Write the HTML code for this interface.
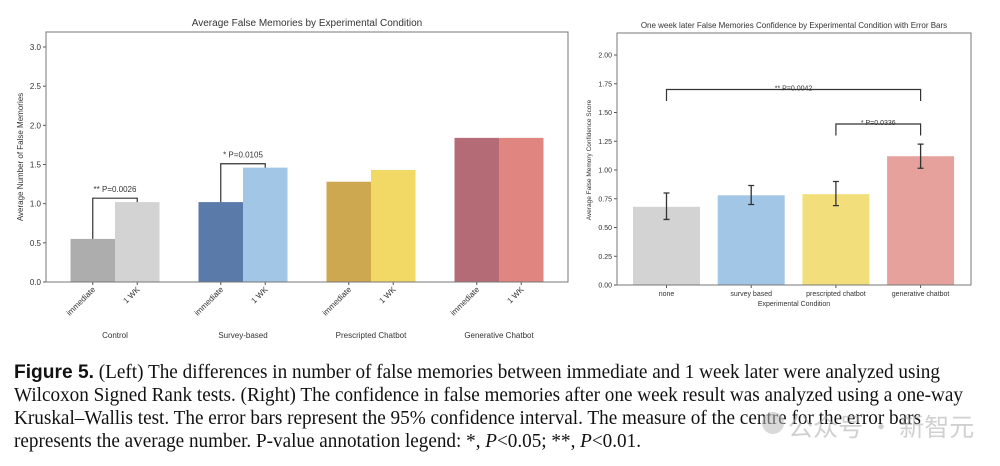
<!DOCTYPE html>
<html><head><meta charset="utf-8"><style>
body{margin:0;background:#fff;width:1000px;height:466px;overflow:hidden}
svg{display:block}
text{font-family:"Liberation Sans",sans-serif;fill:#333}
.cap{font-family:"Liberation Serif",serif;font-size:19.5px;fill:#111}
</style></head><body>
<svg id="s" width="1000" height="466" viewBox="0 0 1000 466" xmlns="http://www.w3.org/2000/svg">
<rect x="0" y="0" width="1000" height="466" fill="#fff"/>
<g id="left"></g>
<g id="right"></g>
<g>
<text x="14" y="378" class="cap" textLength="926" lengthAdjust="spacingAndGlyphs"><tspan style="font-family:'Liberation Sans',sans-serif;font-weight:bold">Figure 5.</tspan> (Left) The differences in number of false memories between immediate and 1 week later were analyzed using</text>
<text x="14" y="401" class="cap" textLength="949" lengthAdjust="spacingAndGlyphs">Wilcoxon Signed Rank tests. (Right) The confidence in false memories after one week result was analyzed using a one-way</text>
<text x="14" y="424" class="cap" textLength="907" lengthAdjust="spacingAndGlyphs">Kruskal–Wallis test. The error bars represent the 95% confidence interval. The measure of the centre for the error bars</text>
<text x="14" y="447" class="cap" textLength="627" lengthAdjust="spacingAndGlyphs">represents the average number. P-value annotation legend: *, <tspan font-style="italic">P</tspan>&lt;0.05; **, <tspan font-style="italic">P</tspan>&lt;0.01.</text>
</g>
<g opacity="0.55">
<circle cx="773" cy="423" r="11" fill="#bbb"/>
<text x="788" y="436" font-size="25" style="font-family:'Noto Sans CJK SC',sans-serif;fill:#aaa">公众号 · 新智元</text>
</g>
</svg>
<script>
// Left chart data
const groups = ["Control","Survey-based","Prescripted Chatbot","Generative Chatbot"];
const immediateVals = [0.55,1.02,1.28,1.84];
const weekVals = [1.02,1.46,1.43,1.84];
const immColors = ["#adadad","#5a7aaa","#cda851","#b56b76"];
const wkColors = ["#d3d3d3","#a2c6e6","#f2d865","#e0857f"];
const leftTicks = [0,0.5,1.0,1.5,2.0,2.5,3.0];
// Right chart data
const conds = ["none","survey based","prescripted chatbot","generative chatbot"];
const confVals = [0.68,0.78,0.79,1.12];
const confLo = [0.57,0.70,0.69,1.015];
const confHi = [0.80,0.865,0.90,1.225];
const confColors = ["#d3d3d3","#a2c6e6","#f2df7c","#e6a19c"];
const rightTicks = [0,0.25,0.5,0.75,1.0,1.25,1.5,1.75,2.0];

const NS="http://www.w3.org/2000/svg";
function mk(parent,tag,attrs,txt){const e=document.createElementNS(NS,tag);for(const k in attrs)e.setAttribute(k,attrs[k]);if(txt!=null)e.textContent=txt;parent.appendChild(e);return e;}

// LEFT
const L=document.getElementById('left');
const lx0=46,lx1=568,ly0=32,ly1=282;
const ly=v=>ly1-v*(ly1-47)/3.0;
const groupX=i=>115+i*128;
const bw=44.5;
let t=mk(L,'text',{x:307,y:26,'font-size':10,'text-anchor':'middle'},'Average False Memories by Experimental Condition');


t=mk(L,'text',{transform:'translate(23,157) rotate(-90)','font-size':8,'text-anchor':'middle'},'Average Number of False Memories');


leftTicks.forEach(v=>{
  mk(L,'line',{x1:lx0-3,x2:lx0,y1:ly(v),y2:ly(v),stroke:'#555'});
  const tt=mk(L,'text',{x:lx0-5,y:ly(v)+3,'font-size':8,'text-anchor':'end'},v.toFixed(1));
  
  
});
groups.forEach((g,i)=>{
  const c=groupX(i);
  let r=mk(L,'rect',{x:c-bw,y:ly(immediateVals[i]),width:bw,height:ly1-ly(immediateVals[i]),fill:immColors[i]});
  
  
  r=mk(L,'rect',{x:c,y:ly(weekVals[i]),width:bw,height:ly1-ly(weekVals[i]),fill:wkColors[i]});
  
  
  [[c-bw/2,'immediate'],[c+bw/2,'1 WK']].forEach(([x,s])=>{
    mk(L,'line',{x1:x,x2:x,y1:ly1,y2:ly1+3,stroke:'#555'});
    const tl=mk(L,'text',{transform:`translate(${x+3},${ly1+8}) rotate(-45)`,'font-size':8,'text-anchor':'end'},s);
    
    
  });
  const gl=mk(L,'text',{x:c,y:338,'font-size':8,'text-anchor':'middle'},g);
  
  
});
mk(L,'rect',{x:lx0,y:ly0,width:lx1-lx0,height:ly1-ly0,fill:'none',stroke:'#777','stroke-width':1});
const lbr=[[0,1.07,'** P=0.0026'],[1,1.51,'* P=0.0105']];
lbr.forEach(([i,h,s])=>{
  const c=groupX(i),a=c-bw/2,b=c+bw/2;
  const p=mk(L,'path',{d:`M${a},${ly(immediateVals[i])} V${ly(h)} H${b} V${ly(weekVals[i])}`,fill:'none',stroke:'#333','stroke-width':1.2});
  
  
  mk(L,'text',{x:c,y:ly(h)-6,'font-size':8,'text-anchor':'middle'},s);
});

// RIGHT
const R=document.getElementById('right');
const rx0=617,rx1=971,ry0=33,ry1=285;
const ry=v=>ry1-v*(ry1-55)/2.0;
const rc=i=>666.5+i*84.7, rbw=67;
t=mk(R,'text',{x:794,y:28,'font-size':8,'text-anchor':'middle'},'One week later False Memories Confidence by Experimental Condition with Error Bars');


t=mk(R,'text',{transform:'translate(591,160) rotate(-90)','font-size':6.5,'text-anchor':'middle'},'Average False Memory Confidence Score');


t=mk(R,'text',{x:794,y:306,'font-size':7,'text-anchor':'middle'},'Experimental Condition');


rightTicks.forEach(v=>{
  mk(R,'line',{x1:rx0-3,x2:rx0,y1:ry(v),y2:ry(v),stroke:'#555'});
  const tt=mk(R,'text',{x:rx0-5,y:ry(v)+2.5,'font-size':7,'text-anchor':'end'},v.toFixed(2));
  
  
});
conds.forEach((cn,i)=>{
  const c=rc(i);
  const r=mk(R,'rect',{x:c-rbw/2,y:ry(confVals[i]),width:rbw,height:ry1-ry(confVals[i]),fill:confColors[i]});
  
  
  const e=mk(R,'path',{d:`M${c},${ry(confLo[i])} V${ry(confHi[i])} M${c-3},${ry(confLo[i])} H${c+3} M${c-3},${ry(confHi[i])} H${c+3}`,stroke:'#333','stroke-width':1.3,fill:'none'});
  
  
  mk(R,'line',{x1:c,x2:c,y1:ry1,y2:ry1+3,stroke:'#555'});
  const tl=mk(R,'text',{x:c,y:296,'font-size':7,'text-anchor':'middle'},cn);
  
  
});
mk(R,'rect',{x:rx0,y:ry0,width:rx1-rx0,height:ry1-ry0,fill:'none',stroke:'#777','stroke-width':1});
const rbr=[[0,3,1.70,1.60,'**  P=0.0042'],[2,3,1.40,1.30,'* P=0.0336']];
rbr.forEach(([a,b,h,d,s])=>{
  const p=mk(R,'path',{d:`M${rc(a)},${ry(d)} V${ry(h)} H${rc(b)} V${ry(d)}`,fill:'none',stroke:'#333','stroke-width':1.2});
  
  
  mk(R,'text',{x:(rc(a)+rc(b))/2,y:ry(h)+1,'font-size':7,'text-anchor':'middle'},s);
});
</script>
</body></html>
